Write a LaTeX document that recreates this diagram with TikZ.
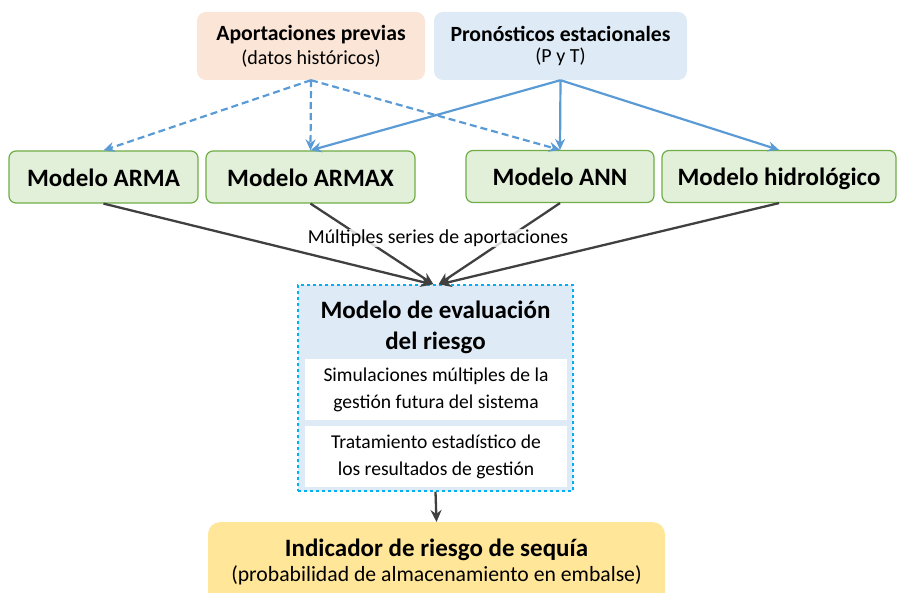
\documentclass[tikz,border=0pt]{standalone}
\usepackage{fontspec}
\setmainfont{Carlito}
\usetikzlibrary{arrows.meta}
\definecolor{peach}{HTML}{FBE5D6}
\definecolor{lblue}{HTML}{DEEBF7}
\definecolor{lgreen}{HTML}{E2F0D9}
\definecolor{dgreen}{HTML}{70AD47}
\definecolor{ablue}{HTML}{5B9BD5}
\definecolor{agray}{HTML}{404040}
\definecolor{cyanb}{HTML}{00B0F0}
\definecolor{lyellow}{HTML}{FFE699}
\tikzset{
  top/.style={rounded corners=9pt, align=center, minimum height=68pt, inner sep=0pt},
  model/.style={draw=dgreen, line width=1.2pt, fill=lgreen, rounded corners=7pt, minimum height=52pt, inner sep=0pt,
    text height=22pt, text depth=3pt, font=\fontsize{25}{28}\selectfont\bfseries},
  white/.style={fill=white, minimum width=262pt, minimum height=61pt, align=center, inner sep=0pt,
    font=\fontsize{19.6}{27}\selectfont},
  dsh/.style={ablue, line width=2.2pt, dash pattern=on 7pt off 4pt, -{Stealth[length=11pt,width=10pt]}},
  sol/.style={ablue, line width=2.2pt, -{Stealth[length=11pt,width=10pt]}},
  dk/.style={agray, line width=2.3pt, -{Stealth[length=12pt,width=11pt]}}
}
\begin{document}
\begin{tikzpicture}[x=1pt,y=-1pt]
\useasboundingbox (0,0) rectangle (898,593);

\node[top, fill=peach, minimum width=228pt] (P) at (311,46)
  {{\fontsize{21.7}{25}\selectfont\bfseries Aportaciones previas}\\[5pt]{\fontsize{20}{22}\selectfont (datos históricos)}};
\node[top, fill=lblue, minimum width=253pt] (T) at (560.5,46)
  {{\fontsize{21.7}{25}\selectfont\bfseries Pronósticos estacionales}\\[5pt]{\fontsize{20}{22}\selectfont (P y T)}};

\node[model, minimum width=189pt] (arma) at (103.5,177) {Modelo ARMA};
\node[model, minimum width=209pt] (armax) at (310.5,177) {Modelo ARMAX};
\node[model, minimum width=188pt] (ann) at (560,176.5) {Modelo ANN};
\node[model, minimum width=234pt] (hid) at (779,176.5) {Modelo hidrológico};

\node[draw=cyanb, dashed, line width=1.2pt, fill=lblue, minimum width=275pt, minimum height=206pt, inner sep=0pt] (R) at (435.5,388) {};
\node[align=center, font=\fontsize{25}{31}\selectfont\bfseries] (Rh) at (435.5,327) {Modelo de evaluación\\del riesgo};
\node[white] (S) at (436,390) {Simulaciones múltiples de la\\gestión futura del sistema};
\node[white] (E) at (436,457) {Tratamiento estadístico de\\los resultados de gestión};

\node[fill=lyellow, rounded corners=12pt, minimum width=457pt, minimum height=100pt, anchor=north, inner sep=0pt] (I) at (436.5,522) {};
\node[align=center] (It) at (436.5,562)
  {{\fontsize{25}{28}\selectfont\bfseries Indicador de riesgo de sequía}\\[3pt]{\fontsize{21.7}{25}\selectfont (probabilidad de almacenamiento en embalse)}};

\draw[dsh] (P.south) -- (arma.north);
\draw[dsh] (P.south) -- (armax.north);
\draw[dsh] (P.south) -- (ann.north);
\draw[sol] (T.south) -- (armax.north);
\draw[sol] (T.south) -- (ann.north);
\draw[sol] (T.south) -- (hid.north);

\draw[dk] (arma.south) -- ([xshift=-3pt]R.north);
\draw[dk] (armax.south) -- ([xshift=-2pt]R.north);
\draw[dk] (ann.south) -- ([xshift=3pt]R.north);
\draw[dk] (hid.south) -- ([xshift=4pt]R.north);
\node[fill=white, fill opacity=0.8, text opacity=1, inner sep=1pt, font=\fontsize{19.8}{22}\selectfont] (L) at (438,238) {Múltiples series de aportaciones};

\draw[dk] (R.south) -- (I.north);
\end{tikzpicture}
\end{document}
